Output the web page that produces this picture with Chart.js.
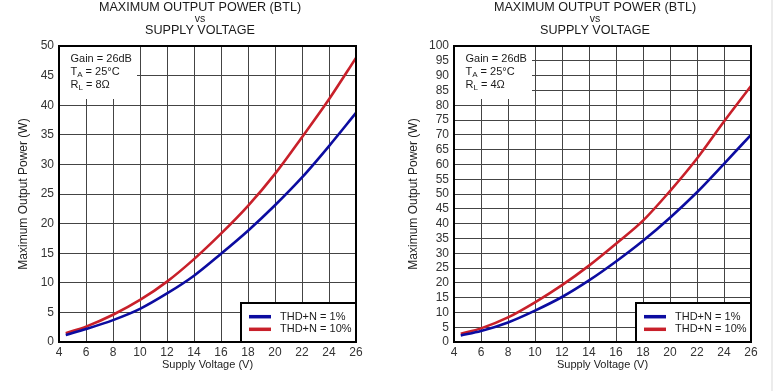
<!DOCTYPE html>
<html>
<head>
<meta charset="utf-8">
<script src="https://cdn.jsdelivr.net/npm/chart.js@4.4.0/dist/chart.umd.min.js"></script>
<style>
  body { margin: 0; background: #fff; }
  .wrap { position: absolute; top: 0; height: 391px; }
  #edge { position: absolute; left: 771px; top: 0; width: 2px; height: 391px; background: #ececec; }
</style>
</head>
<body>
<div class="wrap" style="left:0;width:390px"><canvas id="chart8" width="390" height="391"></canvas></div>
<div class="wrap" style="left:390px;width:387px"><canvas id="chart4" width="387" height="391"></canvas></div>
<div id="edge"></div>
<script>
// Data
const voltage = [4.5, 6, 8, 10, 12, 14, 16, 18, 20, 22, 24, 26];
const power8ohm1pct  = [1.2, 2.2, 3.7, 5.6, 8.2, 11.2, 14.9, 18.8, 23.1, 27.8, 33.1, 38.7];
const power8ohm10pct = [1.5, 2.6, 4.6, 7.1, 10.2, 14.0, 18.3, 23.0, 28.4, 34.6, 41.0, 48.0];
const power4ohm1pct  = [2.2, 3.7, 6.6, 10.6, 15.2, 20.8, 27.2, 34.2, 42.0, 50.6, 60.2, 70.0];
const power4ohm10pct = [2.8, 4.6, 8.3, 13.4, 19.2, 25.8, 33.2, 41.0, 51.0, 62.0, 74.5, 86.5];
const seriesLabels = ['THD+N = 1%', 'THD+N = 10%'];
const titleLines = ['MAXIMUM OUTPUT POWER (BTL)', 'vs', 'SUPPLY VOLTAGE'];

const FONT = '"Liberation Sans", Arial, sans-serif';
const BLUE = '#0c0ca0';
const RED = '#c8202a';

function toPoints(ys) {
    return voltage.map((v, i) => ({ x: v, y: ys[i] }));
}

// Draws the three-line heading above the plot
const headingPlugin = {
    id: 'heading',
    afterDraw(chart, args, opts) {
        const ctx = chart.ctx;
        ctx.save();
        ctx.fillStyle = '#1a1a1a';
        ctx.textAlign = 'center';
        ctx.textBaseline = 'middle';
        ctx.font = '12.6px ' + FONT;
        ctx.fillText(titleLines[0], opts.cx, 8);
        ctx.font = '10.5px ' + FONT;
        ctx.fillText(titleLines[1], opts.cx, 19.5);
        ctx.font = '12.6px ' + FONT;
        ctx.fillText(titleLines[2], opts.cx, 31);
        ctx.restore();
    }
};

// Conditions box in the upper left corner (covers the grid)
const conditionsPlugin = {
    id: 'conditions',
    beforeDatasetsDraw(chart, args, opts) {
        const { ctx, chartArea: a } = chart;
        ctx.save();
        ctx.fillStyle = '#fff';
        ctx.fillRect(a.left + 1, a.top + 1, 77, 52);
        ctx.fillStyle = '#1a1a1a';
        ctx.textBaseline = 'middle';
        ctx.textAlign = 'left';
        const x = a.left + 11.5;
        ctx.font = '11px ' + FONT;
        ctx.fillText('Gain = 26dB', x, a.top + 13);
        const sub = (main, s, rest, y) => {
            ctx.font = '11px ' + FONT;
            ctx.fillText(main, x, y);
            let w = ctx.measureText(main).width;
            ctx.font = '8px ' + FONT;
            ctx.fillText(s, x + w, y + 3);
            w += ctx.measureText(s).width;
            ctx.font = '11px ' + FONT;
            ctx.fillText(rest, x + w, y);
        };
        sub('T', 'A', ' = 25°C', a.top + 26);
        sub('R', 'L', ' = ' + opts.load, a.top + 39);
        ctx.restore();
    },
    afterDatasetsDraw(chart) {
        const { ctx, chartArea: a } = chart;
        ctx.save();
        ctx.strokeStyle = '#000';
        ctx.lineWidth = 2;
        ctx.strokeRect(a.left, a.top, a.right - a.left, a.bottom - a.top);
        ctx.restore();
    }
};

// Boxed legend in the lower right corner
const boxLegendPlugin = {
    id: 'boxLegend',
    afterDraw(chart) {
        const { ctx, chartArea: a } = chart;
        const x0 = a.right - 115, y0 = a.bottom - 39;
        ctx.save();
        ctx.fillStyle = '#fff';
        ctx.fillRect(x0, y0, 115, 39);
        ctx.strokeStyle = '#000';
        ctx.lineWidth = 2;
        ctx.strokeRect(x0, y0, 115, 39);
        chart.data.datasets.forEach((ds, i) => {
            const y = a.bottom - 25.3 + i * 12.6;
            ctx.strokeStyle = ds.borderColor;
            ctx.lineWidth = 3.5;
            ctx.beginPath();
            ctx.moveTo(a.right - 107, y);
            ctx.lineTo(a.right - 85, y);
            ctx.stroke();
            ctx.fillStyle = '#1a1a1a';
            ctx.font = '11px ' + FONT;
            ctx.textBaseline = 'middle';
            ctx.fillText(ds.label, a.right - 76, y);
        });
        ctx.restore();
    }
};

function makeChart(id, low, high, yMax, axisWidth, padRight, titleX, load) {
    return new Chart(document.getElementById(id), {
        type: 'line',
        data: {
            datasets: [
                { label: seriesLabels[0], data: toPoints(low), borderColor: BLUE, borderWidth: 2.6 },
                { label: seriesLabels[1], data: toPoints(high), borderColor: RED, borderWidth: 2.6 }
            ]
        },
        options: {
            responsive: false,
            animation: false,
            layout: { padding: { top: 46, right: padRight, bottom: 14, left: 0 } },
            elements: {
                point: { radius: 0 },
                line: { cubicInterpolationMode: 'monotone', fill: false }
            },
            plugins: {
                legend: { display: false },
                tooltip: { enabled: false },
                heading: { cx: titleX },
                conditions: { load: load }
            },
            scales: {
                x: {
                    type: 'linear',
                    min: 4,
                    max: 26,
                    afterFit: s => { s.height = 35; },
                    ticks: { stepSize: 2, autoSkip: false, maxRotation: 0, padding: 3, color: '#333', font: { family: FONT, size: 12 } },
                    grid: { color: '#444', lineWidth: 1, drawTicks: false },
                    border: { display: false },
                    title: { display: true, text: 'Supply Voltage (V)', color: '#222', padding: { top: 0, bottom: 5 }, font: { family: FONT, size: 11 } }
                },
                y: {
                    min: 0,
                    max: yMax,
                    afterFit: s => { s.width = axisWidth; },
                    ticks: { stepSize: 5, autoSkip: false, padding: 5, color: '#333', font: { family: FONT, size: 12 } },
                    grid: { color: '#444', lineWidth: 1, drawTicks: false },
                    border: { display: false },
                    title: { display: true, text: 'Maximum Output Power (W)', color: '#222', padding: { top: 16, bottom: 0 }, font: { family: FONT, size: 12 } }
                }
            }
        },
        plugins: [headingPlugin, conditionsPlugin, boxLegendPlugin]
    });
}

makeChart('chart8', power8ohm1pct, power8ohm10pct, 50, 59, 34, 200, '8Ω');
makeChart('chart4', power4ohm1pct, power4ohm10pct, 100, 64, 26, 205, '4Ω');
</script>
</body>
</html>
